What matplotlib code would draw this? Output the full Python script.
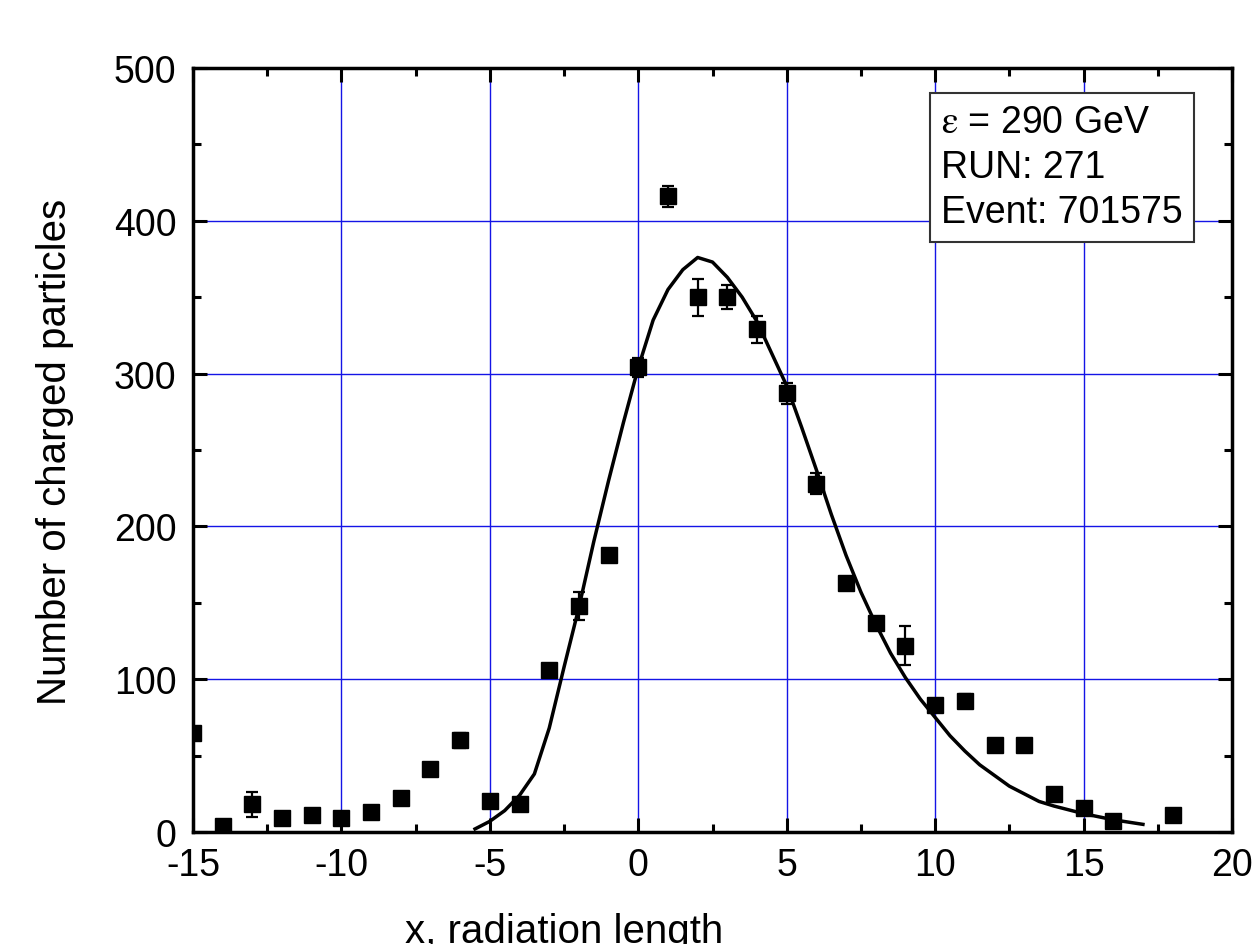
import matplotlib
matplotlib.use("Agg")
import matplotlib.pyplot as plt
from matplotlib.ticker import MultipleLocator

plt.rcParams["font.family"] = ["Liberation Sans", "DejaVu Sans"]
plt.rcParams["axes.unicode_minus"] = False
plt.rcParams["mathtext.fontset"] = "stix"

# measured points
x_pts = [-15, -14, -13, -12, -11, -10, -9, -8, -7, -6, -5, -4, -3, -2, -1, 0, 1, 2, 3, 4,
         5, 6, 7, 8, 9, 10, 11, 12, 13, 14, 15, 16, 18]
y_pts = [65, 4, 18, 9, 11, 9, 13, 22, 41, 60, 20, 18, 106, 148, 181, 304, 416, 350, 350, 329,
         287, 228, 163, 137, 122, 83, 86, 57, 57, 25, 16, 7, 11]
y_err = [4, 3, 8, 3, 4, 3, 4, 4, 4, 5, 4, 4, 4, 9, 4, 6, 7, 12, 8, 9,
         7, 7, 4, 4, 13, 4, 4, 4, 4, 4, 3, 3, 4]

# fitted curve
x_fit = [-5.5, -5.0, -4.5, -4.0, -3.5, -3.0, -2.5, -2.0, -1.5, -1.0, -0.5, 0.0, 0.5, 1.0, 1.5,
         2.0, 2.5, 3.0, 3.5, 4.0, 4.5, 5.0, 5.5, 6.0, 6.5, 7.0, 7.5, 8.0, 8.5, 9.0, 9.5, 10.0,
         10.5, 11.0, 11.5, 12.0, 12.5, 13.0, 13.5, 14.0, 15.0, 16.0, 17.0]
y_fit = [2, 7, 14, 24, 38, 68, 108, 147, 190, 230, 268, 304, 335, 355, 368,
         376, 373, 363, 350, 334, 313, 292, 265, 237, 208, 181, 157, 136, 117, 101, 87, 75,
         63, 53, 44, 37, 30, 25, 20, 17, 12, 8, 5]

fig = plt.figure(figsize=(12.55, 9.45), dpi=100)
ax = fig.add_axes([193/1255, 1-833/945, (1232-193)/1255, (833-69)/945])

ax.grid(True, which="major", color="#1414e6", linewidth=1.0, zorder=0)
ax.set_axisbelow(True)

ax.plot(x_fit, y_fit, color="black", lw=2.5, zorder=3)
ax.errorbar(x_pts, y_pts, yerr=y_err, fmt="s", color="black", ms=11, elinewidth=1.6,
            capsize=4.3, capthick=1.6, zorder=4)

ax.set_xlim(-15, 20)
ax.set_ylim(0, 500)
ax.xaxis.set_major_locator(MultipleLocator(5))
ax.xaxis.set_minor_locator(MultipleLocator(2.5))
ax.yaxis.set_major_locator(MultipleLocator(100))
ax.yaxis.set_minor_locator(MultipleLocator(50))
ax.tick_params(which="both", direction="in", top=True, right=True, width=2.2, labelsize=27)
ax.tick_params(axis="x", pad=11)
ax.tick_params(axis="y", pad=12)
ax.tick_params(which="major", length=10)
ax.tick_params(which="minor", length=6)
for s in ax.spines.values():
    s.set_linewidth(2.5)

fig.text(564/1255, 1-932/945, "x, radiation length", ha="center", va="center", fontsize=29)
fig.text(55/1255, 1-452/945, "Number of charged particles", ha="center", va="center",
         rotation=90, fontsize=29)

ax.text(0.72, 0.953, "$\\mathrm{\\varepsilon}$ = 290 GeV\nRUN: 271\nEvent: 701575",
        transform=ax.transAxes, ha="left", va="top", fontsize=27, linespacing=1.33,
        bbox=dict(boxstyle="square,pad=0.3", facecolor="white", edgecolor="#333333", lw=1.5),
        zorder=5)

fig.savefig("out.png", dpi=100)
